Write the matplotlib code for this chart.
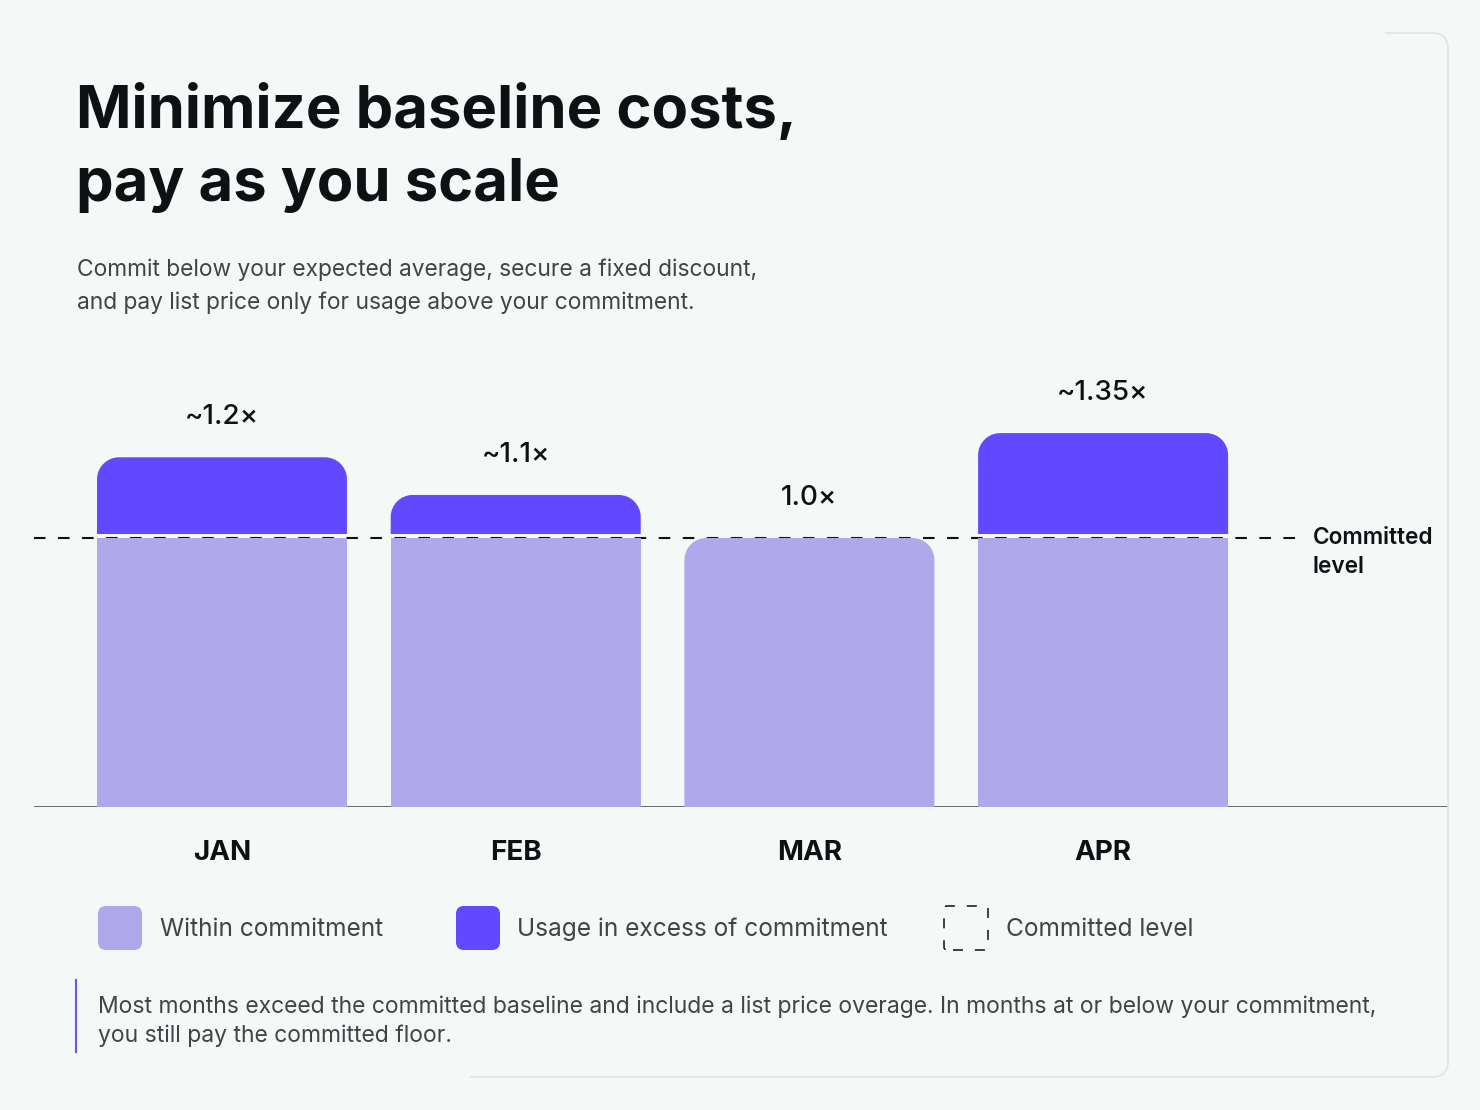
import numpy as np
import matplotlib
matplotlib.use("Agg")
import matplotlib.pyplot as plt
from matplotlib.patches import PathPatch, FancyBboxPatch
from matplotlib.path import Path
from matplotlib.lines import Line2D
from matplotlib.transforms import IdentityTransform, Bbox, blended_transform_factory

# data
months = ["JAN", "FEB", "MAR", "APR"]
committed = 1.0
usage = [1.30, 1.16, 1.00, 1.39]          # bar tops, in units of the commitment
usage_labels = ["~1.2×", "~1.1×", "1.0×", "~1.35×"]
legend_labels = ["Within commitment", "Usage in excess of commitment", "Committed level"]

title_lines = ["Minimize baseline costs,", "pay as you scale"]
subtitle_lines = ["Commit below your expected average, secure a fixed discount,",
                  "and pay list price only for usage above your commitment."]
note_lines = ["Most months exceed the committed baseline and include a list price overage. "
              "In months at or below your commitment,",
              "you still pay the committed floor."]

BG = "#f6f8f7"
LIGHT = "#b0a8ea"
DARK = "#6248ff"
INK = "#0d1114"
GREY = "#3f4448"

W, H = 1480, 1110
plt.rcParams['font.family'] = ['Inter', 'DejaVu Sans']
plt.rcParams['lines.scale_dashes'] = False

fig = plt.figure(figsize=(W / 100, H / 100), dpi=100, facecolor=BG)
PX = IdentityTransform()


def fy(y):
    # pixel row from the top -> figure fraction
    return 1 - y / H


# card outline (only right and bottom edges are visible)
for clip in [Bbox([[1385, 0], [W, H]]), Bbox([[470, 0], [1385, 60]])]:
    card = FancyBboxPatch((-200, H - 1077), 1648, 1044,
                          boxstyle="round,pad=0,rounding_size=16",
                          fc="none", ec="#e1e4e4", lw=1.2, transform=PX)
    card.set_clip_box(clip)
    fig.add_artist(card)

# title + subtitle
for i, line in enumerate(title_lines):
    fig.text(76 / W, fy(128 + 73 * i), line, fontsize=43, weight="bold",
             color=INK, va="baseline")
for i, line in enumerate(subtitle_lines):
    fig.text(77 / W, fy(276 + 33 * i), line, fontsize=16.4, color=GREY, va="baseline")

# chart axes
ax = fig.add_axes([34 / W, fy(807), (1448 - 34) / W, (807 - 350) / H])
ax.set_facecolor("none")
unit_px = 269
step_px = 293.7
ax.set_ylim(0, (807 - 350) / unit_px)
ax.set_xlim(-(222 - 34) / step_px, (1448 - 222) / step_px)
for s in ax.spines.values():
    s.set_visible(False)
ax.set_xticks([])
ax.set_yticks([])

x = np.arange(len(months))
usage = np.array(usage)
within = np.minimum(usage, committed)
excess = np.maximum(usage - committed, 0)
gap = 4 / unit_px
bw = 250 / step_px

light_bars = ax.bar(x, within, width=bw, color=LIGHT, lw=0)
dark_bars = ax.bar(x, np.where(excess > 0, excess - gap, 0), bottom=committed + gap,
                   width=bw, color=DARK, lw=0)

K = 0.5523


def rounded_top(rect, rounded, r=22):
    (x0, y0), (x1, y1) = ax.transData.transform(
        [[rect.get_x(), rect.get_y()],
         [rect.get_x() + rect.get_width(), rect.get_y() + rect.get_height()]])
    if not rounded:
        verts = [(x0, y0), (x1, y0), (x1, y1), (x0, y1), (x0, y0)]
        codes = [Path.MOVETO, Path.LINETO, Path.LINETO, Path.LINETO, Path.CLOSEPOLY]
    else:
        r = min(r, y1 - y0, (x1 - x0) / 2)
        verts = [(x0, y0), (x1, y0), (x1, y1 - r),
                 (x1, y1 - r + K * r), (x1 - r + K * r, y1), (x1 - r, y1),
                 (x0 + r, y1),
                 (x0 + r - K * r, y1), (x0, y1 - r + K * r), (x0, y1 - r),
                 (x0, y0)]
        codes = [Path.MOVETO, Path.LINETO, Path.LINETO,
                 Path.CURVE4, Path.CURVE4, Path.CURVE4,
                 Path.LINETO,
                 Path.CURVE4, Path.CURVE4, Path.CURVE4,
                 Path.CLOSEPOLY]
    patch = PathPatch(Path(verts, codes), fc=rect.get_facecolor(), lw=0,
                      transform=PX, zorder=2)
    fig.add_artist(patch)
    rect.set_visible(False)


for i in range(len(months)):
    rounded_top(light_bars[i], rounded=excess[i] <= 0)
    if excess[i] > 0:
        rounded_top(dark_bars[i], rounded=True)
    else:
        dark_bars[i].set_visible(False)

# committed line and baseline
ax.add_line(Line2D([0, 0.894], [committed, committed], color=INK, lw=1.5,
                   dashes=(8.3, 9.0), transform=ax.get_yaxis_transform(), zorder=5))
ax.axhline(0, color="#3d4044", lw=1.8, zorder=5)
fig.text(1313 / W, fy(544), "Committed", fontsize=16.3, weight=600, color=INK, va="baseline")
fig.text(1313 / W, fy(573), "level", fontsize=16.3, weight=600, color=INK, va="baseline")

# value labels above bars
for i, lab in enumerate(usage_labels):
    ax.annotate(lab, xy=(x[i], usage[i]), xytext=(0, 24), textcoords="offset points",
                ha="center", va="baseline", fontsize=20, weight=500, color=INK,
                annotation_clip=False)

# month labels
tr = blended_transform_factory(ax.transData, fig.transFigure)
for i, m in enumerate(months):
    ax.text(x[i], fy(860), m, transform=tr, ha="center", va="baseline",
            fontsize=20, weight="bold", color=INK)

# legend
sw_x = [98, 456, 944]
txt_x = [160, 517, 1006]
for i, lab in enumerate(legend_labels):
    if i < 2:
        box = FancyBboxPatch((sw_x[i], H - 950), 44, 44,
                             boxstyle="round,pad=0,rounding_size=8",
                             fc=[LIGHT, DARK][i], lw=0, transform=PX)
    else:
        box = FancyBboxPatch((sw_x[i], H - 950), 44, 44,
                             boxstyle="round,pad=0,rounding_size=3",
                             fc="none", ec=INK, lw=1.1,
                             linestyle=(11.5, (7.2, 8.6)), transform=PX)
    fig.add_artist(box)
    fig.text(txt_x[i] / W, fy(936), lab, fontsize=17.6, color=GREY, va="baseline")

# note with accent rule
fig.add_artist(Line2D([76, 76], [H - 980, H - 1052], color="#6a55f0", lw=1.5,
                      transform=PX))
for i, line in enumerate(note_lines):
    fig.text(98 / W, fy(1013 + 29 * i), line, fontsize=16.5, color=GREY, va="baseline")

fig.savefig("out.png", dpi=100, facecolor=BG)
